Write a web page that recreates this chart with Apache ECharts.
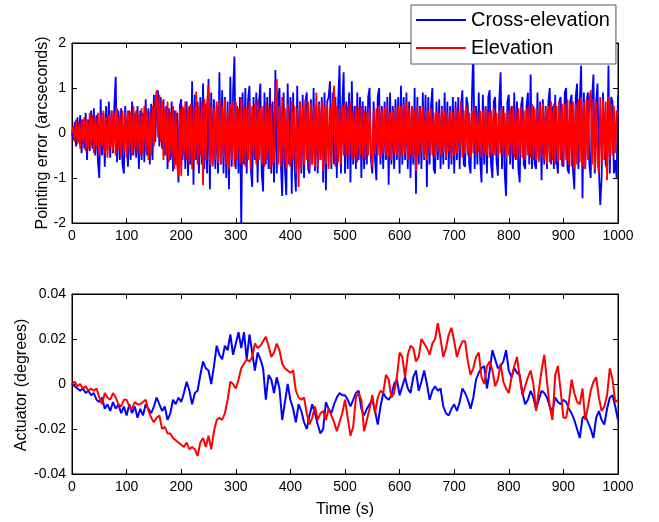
<!DOCTYPE html>
<html>
<head>
<meta charset="utf-8">
<script src="https://cdn.jsdelivr.net/npm/echarts@6/dist/echarts.min.js"></script>
<style>html,body{margin:0;padding:0;background:#fff}#c{width:659px;height:522px}</style>
</head>
<body>
<div id="c"></div>
<script>
// Sampling intervals of the time series (seconds)
const STEP_ERR = 2.5;
const STEP_ACT = 5;
const seriesNames = ['Cross-elevation', 'Elevation'];
const axisTitles = { err: 'Pointing error (arcseconds)', act: 'Actuator (degrees)', time: 'Time (s)' };

// Top panel: pointing error (arcseconds), t = 0..1000 s every 2.5 s
const crossErr = [
  0, -0.15, 0.25, -0.3, 0.35, -0.2, 0.4, -0.45, 0.3, -0.35,
  0.45, -0.6, 0.3, -0.4, 0.5, -0.35, 0.55, -0.5, 0.4, -0.65,
  -1.0, 0.75, -0.5, 0.45, -0.75, 0.6, -0.4, 0.7, -0.55, 0.5,
  -0.45, 0.6, 1.25, -0.65, 0.5, -0.6, 0.55, -0.7, -0.9, 0.6,
  0.6, -0.75, 0.5, -0.6, 0.7, -0.5, 0.45, -0.55, 0.6, -0.8,
  0.5, -0.6, 0.45, -0.65, 0.75, -0.5, 0.55, -0.7, 0.65, -0.6,
  0.85, -0.2, 0.7, 0.95, -0.3, 0.8, -0.35, 0.75, -0.5, 0.6,
  -0.8, 0.55, -0.6, 0.7, -0.85, 0.5, -0.7, 0.45, -1.1, 0.6,
  0.75, -0.6, 0.55, -0.8, 0.7, -0.95, 0.6, -0.7, 1.15, -1.15,
  0.85, -0.6, 0.7, -0.9, 0.8, -0.7, 1.1, -0.8, 0.65, -0.9,
  1.2, -1.25, 0.9, -0.7, 0.75, -0.8, 0.6, -0.9, 1.35, -0.7,
  0.95, -0.9, 0.8, -1.0, 0.7, -1.25, 1.25, -0.75, 0.9, 1.7,
  -0.8, 0.6, -0.9, 0.8, -2.1, 0.9, -0.7, 1.0, -0.9, 0.75,
  1.05, -0.8, -1.2, 0.8, -0.6, 0.9, -1.1, 0.7, 1.1, -0.9,
  -1.3, 0.9, -0.7, 0.8, -0.8, 1.0, -0.9, 0.7, -1.1, 1.4,
  -0.9, 0.8, 1.0, -0.7, -1.4, 0.9, -0.8, -1.38, 1.1, -0.7,
  0.8, -1.35, 0.9, -0.7, -1.3, 1.05, -0.8, 0.7, -0.9, 0.85,
  -1.0, 0.7, 0.9, -0.8, -0.9, 0.75, -0.7, 1.0, -0.85, 0.6,
  -0.9, 0.7, -0.6, 0.8, -1.1, 0.9, -1.27, 0.7, 0.8, 1.15,
  -0.8, 0.9, -0.7, 0.8, -1.0, 0.7, 1.5, -0.9, 0.6, 1.35,
  -0.9, 0.7, -0.8, 0.9, -1.1, 1.15, -0.7, 0.6, -0.8, 0.9,
  -0.6, 0.8, -1.0, 0.7, -0.8, 0.6, -0.7, 0.8, 1.0, -0.6,
  -0.9, 0.7, -0.6, -1.05, 0.8, 1.0, -0.7, 0.6, -0.8, 0.7,
  -0.6, 0.8, -1.15, 0.9, -0.7, 0.6, -0.8, 0.75, -0.6, 0.8,
  -0.9, 1.05, -0.7, 0.8, -0.6, 0.9, -0.8, 0.7, -1.0, 0.6,
  -0.7, 1.0, -1.35, 0.8, -0.7, 0.6, -0.8, 0.9, -0.6, 0.85,
  -1.2, 0.8, -0.7, 0.6, 1.0, -0.8, -0.9, 0.7, -0.6, 0.75,
  -0.8, 0.6, -0.7, 0.9, -0.6, 0.7, -0.8, 0.6, -0.7, 0.8,
  -0.9, 0.7, -0.6, 0.8, -0.8, 0.6, 0.95, -0.7, -0.75, 0.8,
  0.6, -0.7, -0.9, 0.8, 1.9, -0.8, 0.6, -0.7, 0.9, -0.6,
  -1.1, 0.85, -0.7, 0.6, -0.9, 0.8, 0.95, -0.7, -1.0, 0.7,
  0.8, -0.6, -0.95, 0.7, 1.35, -0.8, 0.6, -0.9, -1.4, 0.7,
  0.85, -0.7, 0.6, -0.8, 0.9, -0.6, 0.7, -0.8, -1.1, 0.6,
  0.8, -0.7, -0.8, 0.6, 0.9, -0.7, 1.3, -0.8, 0.6, -0.7,
  -0.8, 0.9, -0.6, 0.7, -1.05, 0.75, -0.7, 0.6, -0.8, 0.7,
  1.0, -0.7, 0.6, -0.8, 0.85, -0.6, -0.9, 0.7, 0.8, -0.7,
  -0.75, 0.9, 1.0, -0.8, -0.9, 0.7, 0.85, -0.8, -1.25, 0.8,
  1.1, -0.8, 0.7, 1.5, -1.45, 0.9, -0.8, 0.7, 0.9, -0.7,
  -1.0, 0.8, 1.3, -0.9, 0.7, 1.1, -0.8, -1.6, -1.0, 0.9,
  0.9, -0.7, -0.8, 1.5, -0.9, 0.8, 0.7, -0.9, -0.6, -1.0,
  0.85
];
const elevErr = [
  0, 0.15, -0.2, 0.3, -0.25, 0.2, -0.35, 0.3, -0.2, 0.35,
  -0.4, 0.3, -0.35, 0.45, -0.3, 0.4, -0.45, 0.35, -0.3, 0.45,
  -0.5, 0.4, -0.3, 0.5, -0.45, 0.35, -0.55, 0.4, -0.35, 0.5,
  -0.4, 0.45, -0.5, 0.55, -0.35, 0.4, -0.55, 0.5, -0.4, 0.45,
  -0.55, 0.5, -0.4, 0.45, -0.5, 0.6, -0.35, 0.5, -0.45, 0.4,
  -0.5, 0.55, -0.45, 0.6, -0.4, 0.5, -0.6, 0.45, -0.5, 0.6,
  -0.3, 0.7, 0.95, -0.1, 0.85, -0.2, 0.7, -0.6, 0.55, -0.5,
  0.7, -0.65, 0.45, -0.55, 0.6, -0.8, 0.5, -0.7, -0.97, 0.55,
  -0.95, 0.6, -0.5, 0.7, -0.6, 0.55, -0.7, 0.65, -0.8, 0.6,
  -0.6, 0.92, -0.7, 0.6, -0.5, 0.7, -1.16, 0.75, -0.6, 0.7,
  1.05, -0.7, 0.6, -0.75, 0.55, -0.6, 0.7, -0.65, 0.75, -0.7,
  0.6, -0.55, 0.75, -0.7, 0.5, -0.8, 0.65, -0.6, 0.7, -0.75,
  0.7, -0.6, 0.55, -0.7, 0.8, -0.65, 0.6, -0.75, 0.55, -0.6,
  0.7, -0.8, 0.6, -0.55, 0.65, -0.7, 0.75, -0.6, 0.55, -0.7,
  0.6, -0.75, 0.7, -0.6, 0.55, -0.8, 0.65, -0.7, -0.6, 0.75,
  1.2, -0.7, 0.6, -0.75, 0.8, -0.65, 0.55, -0.8, 0.65, -0.6,
  -0.75, 0.7, -0.6, 0.6, -0.9, 0.55, -1.2, 0.7, -0.8, 0.6,
  -0.7, 0.75, -0.6, 0.7, -0.8, 0.65, -0.7, 0.6, -0.75, 0.9,
  -0.75, 0.65, -0.6, 0.7, -0.85, 0.6, -0.7, 0.65, -0.8, 0.55,
  -0.7, 0.6, 1.05, -0.75, 0.6, -0.65, 0.55, -0.7, 0.6, -0.5,
  0.65, -0.55, 0.6, -0.5, 0.7, -0.6, 0.5, -0.55, 0.6, -0.65,
  0.55, -0.5, 0.6, -0.55, 0.5, -0.6, 0.45, -0.5, 0.55, -0.45,
  -0.75, 0.5, -0.45, 0.55, -0.5, 0.6, -0.55, 0.5, -0.45, 0.55,
  -0.5, 0.6, -0.55, 0.45, -0.6, 0.5, -0.45, 0.55, -0.5, 0.6,
  -0.55, 0.6, -0.5, 0.65, -0.45, 0.7, -0.6, 0.55, -0.5, 0.6,
  -0.55, 0.5, -0.85, 0.6, -0.5, 0.55, -0.45, 0.6, -0.55, 0.5,
  -0.6, 0.5, -0.45, 0.55, -0.5, 0.45, -0.55, 0.5, -0.4, 0.45,
  -0.5, 0.55, -0.45, 0.5, -0.55, 0.45, -0.4, 0.5, -0.55, 0.45,
  -0.5, 0.55, -0.45, 0.5, -0.4, 0.7, -0.55, 0.5, -0.45, 0.6,
  -0.5, 0.45, -0.55, 0.5, -0.45, 0.55, -0.5, 0.45, -0.4, 0.5,
  -0.55, 0.5, -0.45, 0.55, -0.5, 0.45, -0.55, 0.5, -0.45, 0.55,
  -0.5, 0.45, -0.55, 0.5, -0.45, 0.55, -0.5, 0.45, -0.55, 0.5,
  -0.5, 0.55, -0.45, 0.6, -0.55, 0.5, -0.6, 0.55, -0.5, 0.6,
  -0.55, 0.5, -0.6, 0.55, -0.5, 0.6, -0.55, 0.65, -0.6, 0.55,
  -0.6, 0.55, -0.65, 0.6, -0.55, 0.65, -0.6, 0.55, -0.7, 0.6,
  -0.65, 0.7, -0.6, 0.65, -0.7, 0.6, -0.65, 0.7, -0.6, 0.65,
  -0.7, 0.65, -0.6, 0.75, -0.7, 0.65, -0.75, 0.7, -0.8, 0.65,
  -0.7, 0.75, -0.65, 0.8, -0.75, 0.7, -0.8, 0.75, -0.6, 0.7,
  0.95, -0.7, 0.75, -0.8, 0.7, -0.65, -0.9, 0.8, -0.7, 0.75,
  -0.6, 0.7, -1.05, 0.8, -0.6, 0.65, -0.5, 0.6, -0.45, 0.5,
  0.4
];

// Bottom panel: actuator (degrees), t = 0..1000 s every 5 s
const crossAct = [
  0.000, -0.001, -0.002, -0.003, -0.002, -0.004, -0.003, -0.005, -0.004, -0.007,
  -0.008, -0.006, -0.011, -0.009, -0.012, -0.008, -0.011, -0.009, -0.013, -0.010,
  -0.014, -0.009, -0.013, -0.010, -0.015, -0.011, -0.014, -0.009, -0.011, -0.013,
  -0.010, -0.006, -0.009, -0.012, -0.010, -0.016, -0.013, -0.007, -0.009, -0.006,
  -0.008, -0.004, 0.001, -0.003, -0.009, -0.004, -0.003, 0.004, 0.010, 0.007,
  0.006, 0.000, 0.008, 0.017, 0.013, 0.011, 0.017, 0.015, 0.022, 0.013,
  0.018, 0.023, 0.016, 0.023, 0.011, 0.022, 0.014, 0.006, 0.014, 0.011,
  0.007, -0.007, 0.004, 0.002, -0.004, 0.003, -0.002, -0.016, -0.008, 0.000,
  -0.007, -0.011, -0.017, -0.009, -0.012, -0.017, -0.020, -0.014, -0.009, -0.013,
  -0.018, -0.022, -0.020, -0.008, -0.011, -0.013, -0.009, -0.006, -0.004, -0.005,
  -0.005, -0.007, -0.010, -0.007, -0.004, -0.003, -0.011, -0.014, -0.011, -0.009,
  -0.007, -0.012, -0.018, -0.010, -0.004, -0.006, -0.007, -0.005, 0.000, 0.002,
  -0.005, -0.001, 0.003, -0.002, -0.004, 0.003, 0.006, -0.003, 0.001, 0.006,
  0.000, -0.007, -0.003, -0.001, -0.003, -0.002, -0.010, -0.013, -0.014, -0.011,
  -0.009, -0.012, -0.008, -0.002, -0.004, -0.007, -0.011, -0.006, 0.002, 0.005,
  0.007, 0.008, -0.002, 0.006, 0.015, 0.011, 0.007, 0.008, 0.010, 0.015,
  0.006, 0.003, 0.007, 0.005, 0.004, -0.004, -0.009, -0.007, -0.003, -0.006,
  -0.011, -0.007, -0.003, -0.004, -0.006, -0.010, -0.012, -0.006, -0.008, -0.009,
  -0.007, -0.008, -0.011, -0.013, -0.016, -0.020, -0.024, -0.015, -0.014, -0.017,
  -0.020, -0.024, -0.015, -0.012, -0.016, -0.018, -0.011, -0.006, -0.005, -0.010,
  -0.016
];
const elevAct = [
  0.000, 0.001, -0.001, 0.000, -0.002, -0.001, -0.003, -0.002, -0.003, -0.002,
  -0.006, -0.009, -0.004, -0.006, -0.007, -0.004, -0.006, -0.009, -0.010, -0.007,
  -0.007, -0.010, -0.011, -0.008, -0.009, -0.009, -0.008, -0.007, -0.012, -0.015,
  -0.017, -0.015, -0.014, -0.020, -0.019, -0.022, -0.022, -0.024, -0.025, -0.026,
  -0.027, -0.028, -0.026, -0.029, -0.028, -0.029, -0.032, -0.026, -0.024, -0.028,
  -0.023, -0.029, -0.021, -0.016, -0.015, -0.016, -0.013, -0.007, 0.001, 0.000,
  -0.002, 0.002, 0.007, 0.009, 0.011, 0.010, 0.012, 0.018, 0.016, 0.017,
  0.019, 0.021, 0.017, 0.012, 0.014, 0.018, 0.015, 0.009, 0.007, 0.006,
  0.005, 0.006, -0.003, -0.006, -0.007, -0.006, -0.013, -0.018, -0.015, -0.010,
  -0.016, -0.013, -0.012, -0.016, -0.011, -0.014, -0.017, -0.021, -0.017, -0.013,
  -0.007, -0.015, -0.023, -0.019, -0.006, -0.004, -0.007, -0.021, -0.016, -0.011,
  -0.005, -0.013, -0.006, -0.003, -0.004, 0.004, 0.002, -0.006, -0.004, 0.003,
  0.014, 0.012, 0.003, 0.013, 0.017, 0.016, 0.010, 0.012, 0.020, 0.018,
  0.016, 0.013, 0.018, 0.020, 0.027, 0.020, 0.012, 0.016, 0.022, 0.025,
  0.019, 0.012, 0.016, 0.019, 0.019, 0.010, 0.004, 0.007, 0.012, 0.014,
  0.003, 0.000, 0.008, 0.010, 0.006, -0.001, 0.002, 0.009, 0.001, -0.002,
  -0.004, 0.003, 0.008, 0.012, 0.003, -0.005, -0.001, 0.003, 0.006, 0.000,
  -0.012, -0.003, 0.006, 0.013, 0.001, -0.010, -0.016, 0.004, 0.008, -0.003,
  -0.015, -0.015, -0.008, 0.002, -0.004, -0.008, -0.009, -0.002, -0.016, -0.010,
  -0.003, 0.001, 0.003, -0.006, -0.012, -0.010, -0.005, 0.007, 0.002, -0.008,
  -0.007
];

// Axis ranges / ticks
const timeRange = [0, 1000, 100];
const errRange = [-2, 2, 1];
const actRange = [-0.04, 0.04, 0.02];

const FONT = "'Liberation Sans', Arial, sans-serif";
function pairs(arr, step) { return arr.map((v, i) => [i * step, v]); }

function xAx(grid, pos, showLabel, name) {
  return {
    gridIndex: grid, type: 'value', position: pos,
    min: timeRange[0], max: timeRange[1], interval: timeRange[2],
    axisLine: { show: true, onZero: false, lineStyle: { color: '#000', width: 1 } },
    axisTick: { show: true, inside: true, length: 5, lineStyle: { color: '#000' } },
    axisLabel: { show: showLabel, color: '#000', fontSize: 14, fontFamily: FONT, margin: 6, formatter: v => String(v) },
    splitLine: { show: false },
    name: name || '', nameLocation: 'middle', nameGap: 28,
    nameTextStyle: { color: '#000', fontSize: 16, fontFamily: FONT, verticalAlign: 'top' }
  };
}
function yAx(grid, pos, range, showLabel, fmt) {
  return {
    gridIndex: grid, type: 'value', position: pos,
    min: range[0], max: range[1], interval: range[2],
    axisLine: { show: true, onZero: false, lineStyle: { color: '#000', width: 1 } },
    axisTick: { show: true, inside: true, length: 5, lineStyle: { color: '#000' } },
    axisLabel: { show: showLabel, color: '#000', fontSize: 14, fontFamily: FONT, margin: 6, formatter: fmt },
    splitLine: { show: false }
  };
}
function vTitle(text, x, y) {
  return {
    type: 'text', x: x, y: y, rotation: Math.PI / 2, silent: true,
    style: { text: text, fill: '#000', font: '16px ' + FONT, align: 'center', verticalAlign: 'middle' }
  };
}

const chart = echarts.init(document.getElementById('c'), null, { renderer: 'canvas' });
chart.setOption({
  backgroundColor: '#fff',
  animation: false,
  grid: [
    { left: 72, top: 43, width: 546, height: 180, show: true, borderColor: '#000', borderWidth: 1, backgroundColor: '#fff' },
    { left: 72, top: 294, width: 546, height: 180, show: true, borderColor: '#000', borderWidth: 1, backgroundColor: '#fff' }
  ],
  graphic: [
    vTitle(axisTitles.err, 43, 133),
    vTitle(axisTitles.act, 22, 385)
  ],
  legend: {
    orient: 'vertical', left: 411, top: 5,
    padding: [5, 6, 6, 5], itemGap: 8, itemWidth: 50, itemHeight: 2,
    icon: 'rect', backgroundColor: '#fff', borderColor: '#555', borderWidth: 1,
    textStyle: { fontSize: 20, color: '#000', fontFamily: FONT },
    data: seriesNames
  },
  xAxis: [
    xAx(0, 'bottom', true),
    xAx(0, 'top', false),
    xAx(1, 'bottom', true, axisTitles.time),
    xAx(1, 'top', false)
  ],
  yAxis: [
    yAx(0, 'left', errRange, true),
    yAx(0, 'right', errRange, false),
    yAx(1, 'left', actRange, true, v => String(+v.toFixed(2))),
    yAx(1, 'right', actRange, false)
  ],
  series: [
    { name: seriesNames[0], type: 'line', xAxisIndex: 0, yAxisIndex: 0, data: pairs(crossErr, STEP_ERR), showSymbol: false, clip: true, lineStyle: { color: '#0000ff', width: 1.8 }, itemStyle: { color: '#0000ff' } },
    { name: seriesNames[1], type: 'line', xAxisIndex: 0, yAxisIndex: 0, data: pairs(elevErr, STEP_ERR), showSymbol: false, clip: true, lineStyle: { color: '#ff0000', width: 1.8 }, itemStyle: { color: '#ff0000' } },
    { name: seriesNames[0], type: 'line', xAxisIndex: 2, yAxisIndex: 2, data: pairs(crossAct, STEP_ACT), showSymbol: false, clip: true, lineStyle: { color: '#0000ff', width: 2 }, itemStyle: { color: '#0000ff' } },
    { name: seriesNames[1], type: 'line', xAxisIndex: 2, yAxisIndex: 2, data: pairs(elevAct, STEP_ACT), showSymbol: false, clip: true, lineStyle: { color: '#ff0000', width: 2 }, itemStyle: { color: '#ff0000' } }
  ]
});
</script>
</body>
</html>
